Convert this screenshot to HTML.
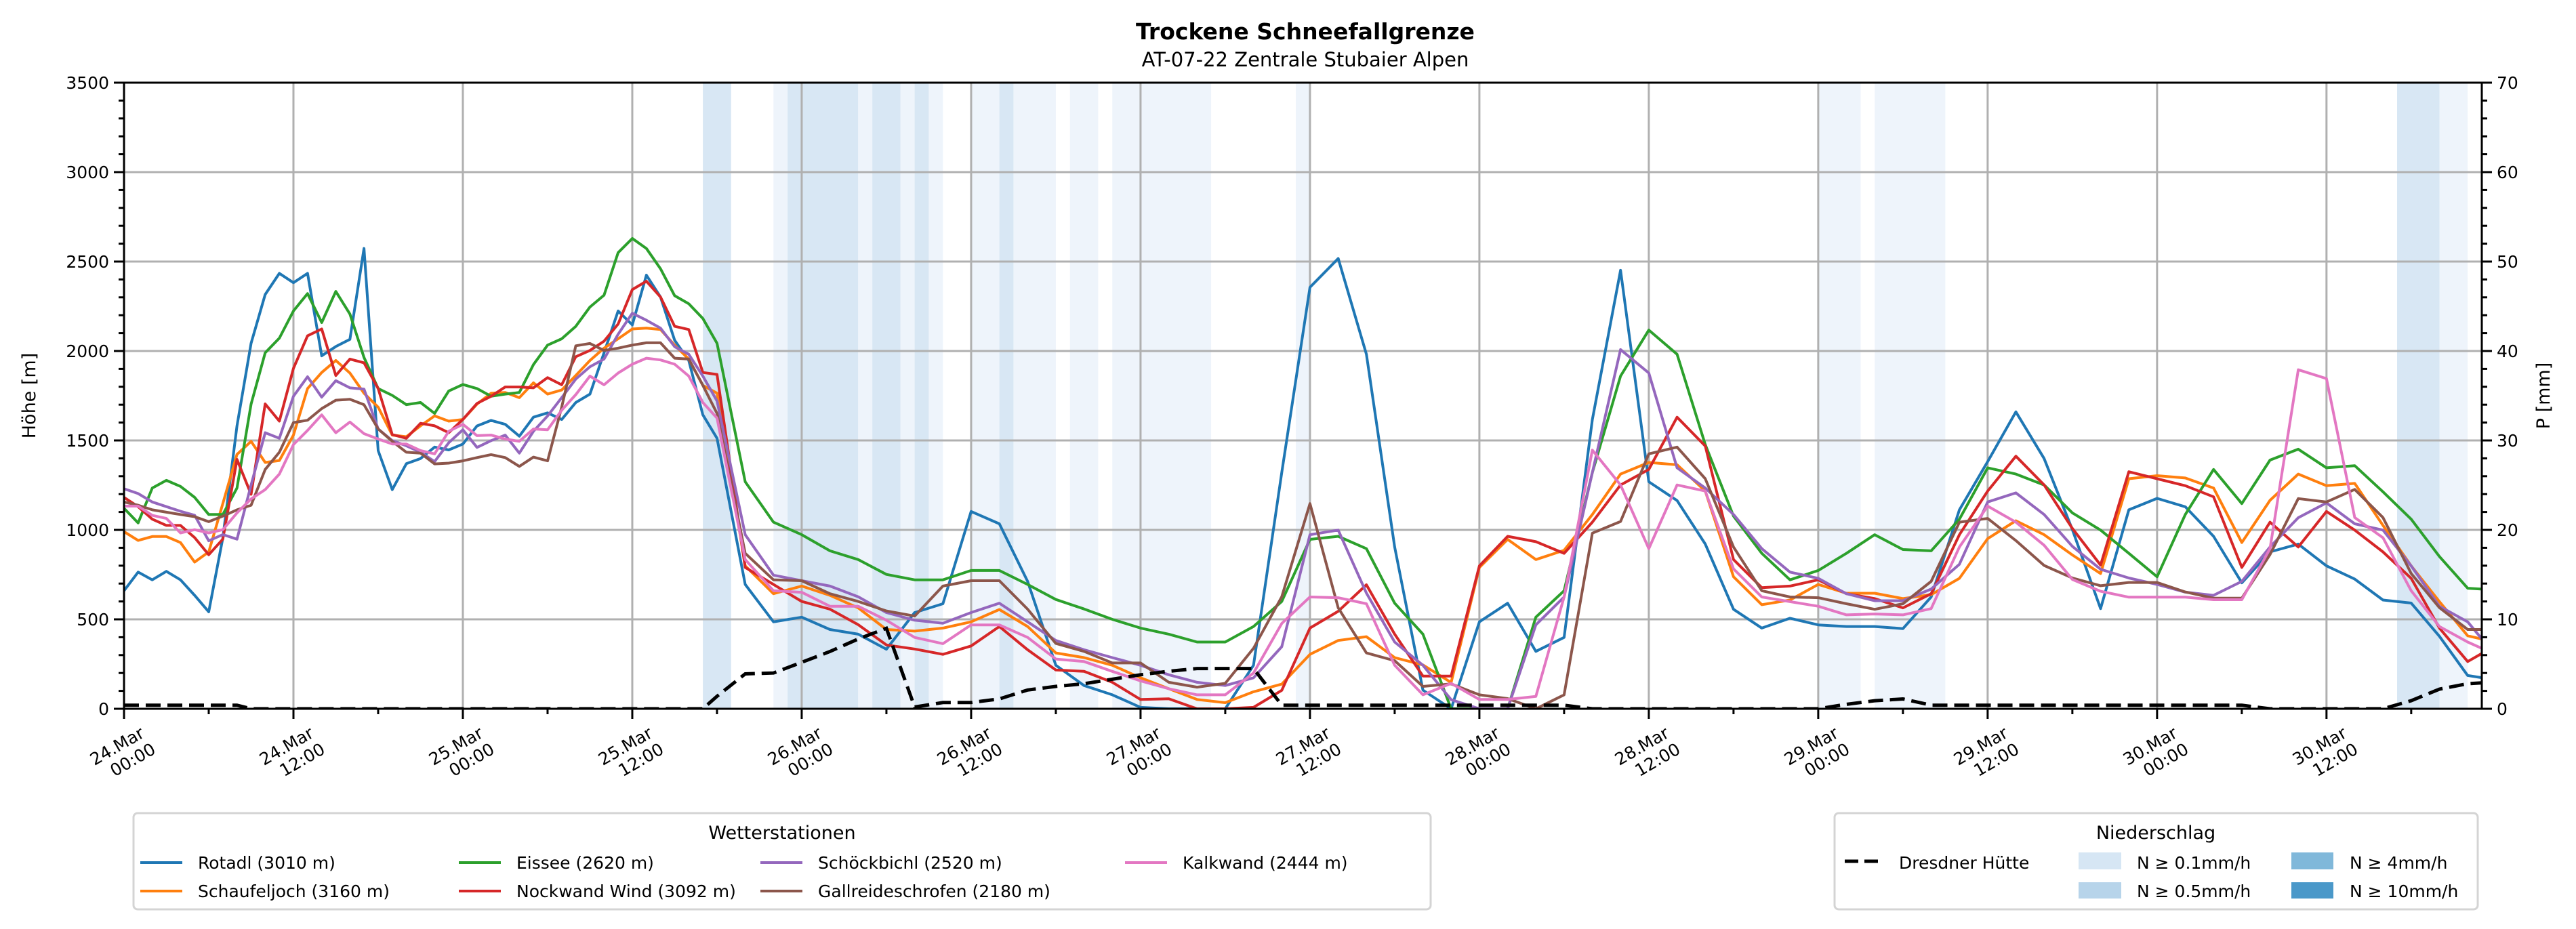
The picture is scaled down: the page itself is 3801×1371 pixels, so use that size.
<!DOCTYPE html>
<html><head><meta charset="utf-8">
<style>
html,body{margin:0;padding:0;background:#fff;}
svg{display:block;font-family:"DejaVu Sans","Liberation Sans",sans-serif;}
</style></head>
<body>
<svg id="chart" width="3801" height="1371" viewBox="0 0 3801 1371" xmlns="http://www.w3.org/2000/svg">
<text x="1926" y="58" text-anchor="middle" font-size="33" font-weight="bold">Trockene Schneefallgrenze</text>
<text x="1926" y="98" text-anchor="middle" font-size="29">AT-07-22 Zentrale Stubaier Alpen</text>
<g id="bands"></g>
<g id="grid"></g>
<g id="series"></g>
<g id="axes"></g>
<text transform="translate(52,584) rotate(-90)" text-anchor="middle" font-size="27">Höhe [m]</text>
<text transform="translate(3762,584) rotate(-90)" text-anchor="middle" font-size="27">P [mm]</text>
<g>
<rect x="197" y="1200" width="1914" height="142" rx="6" fill="#fff" stroke="#d4d4d4" stroke-width="3"/>
<text x="1154" y="1238" text-anchor="middle" font-size="27">Wetterstationen</text>
<g><line x1="207" y1="1273" x2="269" y2="1273" stroke="#1f77b4" stroke-width="4"/><text x="292" y="1282" font-size="25">Rotadl (3010 m)</text></g>
<g><line x1="207" y1="1315" x2="269" y2="1315" stroke="#ff7f0e" stroke-width="4"/><text x="292" y="1324" font-size="25">Schaufeljoch (3160 m)</text></g>
<g><line x1="677" y1="1273" x2="739" y2="1273" stroke="#2ca02c" stroke-width="4"/><text x="762" y="1282" font-size="25">Eissee (2620 m)</text></g>
<g><line x1="677" y1="1315" x2="739" y2="1315" stroke="#d62728" stroke-width="4"/><text x="762" y="1324" font-size="25">Nockwand Wind (3092 m)</text></g>
<g><line x1="1122" y1="1273" x2="1184" y2="1273" stroke="#9467bd" stroke-width="4"/><text x="1207" y="1282" font-size="25">Schöckbichl (2520 m)</text></g>
<g><line x1="1122" y1="1315" x2="1184" y2="1315" stroke="#8c564b" stroke-width="4"/><text x="1207" y="1324" font-size="25">Gallreideschrofen (2180 m)</text></g>
<g><line x1="1660" y1="1273" x2="1722" y2="1273" stroke="#e377c2" stroke-width="4"/><text x="1745" y="1282" font-size="25">Kalkwand (2444 m)</text></g>
</g>
<g>
<rect x="2707" y="1200" width="949" height="142" rx="6" fill="#fff" stroke="#d4d4d4" stroke-width="3"/>
<text x="3181" y="1238" text-anchor="middle" font-size="27">Niederschlag</text>
<g><line x1="2722" y1="1271" x2="2775" y2="1271" stroke="#000" stroke-width="5" stroke-dasharray="20,9"/><text x="2802" y="1282" font-size="25">Dresdner Hütte</text></g>
<g><rect x="3067" y="1258" width="63" height="25" fill="#d6e6f4"/><text x="3153" y="1282" font-size="25">N ≥ 0.1mm/h</text></g>
<g><rect x="3067" y="1302" width="63" height="24" fill="#b7d4ea"/><text x="3153" y="1324" font-size="25">N ≥ 0.5mm/h</text></g>
<g><rect x="3381" y="1258" width="62" height="25" fill="#80b8da"/><text x="3467" y="1282" font-size="25">N ≥ 4mm/h</text></g>
<g><rect x="3381" y="1302" width="62" height="24" fill="#4a98c9"/><text x="3467" y="1324" font-size="25">N ≥ 10mm/h</text></g>
</g>
</svg>
<script>
const hours = [0,1,2,3,4,5,6,7,8,9,10,11,12,13,14,15,16,17,18,19,20,21,22,23,24,25,26,27,28,29,30,31,32,33,34,35,36,37,38,39,40,41,42,
44,46,48,50,52,54,56,58,60,62,64,66,68,70,72,74,76,78,80,82,
84,86,88,90,92,94,96,98,100,102,104,106,108,110,112,114,116,118,120,122,124,126,128,130,132,134,136,138,140,142,144,146,148,150,152,154,156,158,160,162,164,166,167];
const rotadl = [660,764,721,768,721,634,542,955,1582,2043,2316,2434,2382,2434,1973,2025,2065,2573,1443,1225,1370,1399,1463,1447,1480,1581,1612,1590,1524,1630,1654,1617,1712,1759,1990,2224,2146,2424,2302,2060,1947,1643,1512,
695,486,512,443,417,333,538,587,1103,1034,712,243,130,78,8,0,0,0,243,1321,
2356,2517,1982,904,104,0,486,590,321,399,1617,2451,1269,1164,921,556,451,506,469,460,460,448,625,1112,1382,1660,1399,1001,560,1112,1176,1129,964,704,877,921,799,725,608,591,405,186,174];
const schaufeljoch = [990,941,963,963,929,820,877,1147,1422,1495,1377,1388,1530,1790,1880,1947,1877,1764,1686,1530,1521,1582,1637,1608,1617,1703,1764,1768,1739,1822,1759,1782,1863,1947,2016,2068,2123,2128,2120,2033,1955,1808,1764,
799,643,686,634,564,443,434,451,486,555,460,312,286,243,173,112,52,34,95,138,
304,382,403,286,245,147,790,947,834,886,1086,1312,1377,1364,1217,738,582,608,695,646,646,616,638,729,951,1051,973,860,756,1286,1303,1290,1234,929,1165,1312,1247,1260,1025,799,599,408,390];
const eissee = [1121,1039,1234,1277,1243,1182,1086,1086,1234,1703,1990,2072,2224,2321,2159,2333,2207,1964,1790,1752,1700,1712,1651,1776,1813,1790,1747,1759,1768,1924,2033,2068,2138,2246,2312,2550,2629,2573,2460,2309,2264,2182,2043,
1269,1043,973,883,834,751,721,721,773,773,695,611,558,500,451,417,373,373,460,600,
947,964,895,590,417,0,0,0,512,660,1321,1860,2117,1982,1477,1077,869,721,773,869,973,890,883,1060,1347,1312,1251,1095,999,869,738,1086,1338,1147,1390,1451,1347,1359,1213,1060,851,674,669];
const nockwand = [1182,1130,1060,1025,1025,957,861,948,1394,1199,1704,1608,1903,2085,2123,1863,1955,1934,1790,1533,1512,1596,1582,1543,1617,1707,1747,1799,1799,1794,1851,1811,1968,2003,2055,2151,2343,2390,2302,2138,2120,1880,1869,
790,695,600,557,470,357,334,304,351,460,330,217,209,148,52,56,0,0,8,103,
451,545,693,417,183,183,799,964,934,869,1043,1251,1338,1630,1469,834,677,686,721,643,616,564,643,973,1217,1412,1251,1008,803,1325,1286,1247,1185,790,1043,904,1103,999,877,729,451,264,309];
const schoeckbichl = [1230,1203,1156,1130,1104,1082,939,974,948,1251,1543,1512,1747,1856,1742,1834,1794,1787,1564,1499,1470,1434,1382,1487,1560,1461,1499,1530,1429,1551,1637,1739,1843,1912,1955,2094,2211,2172,2128,2024,1982,1860,1721,
973,747,716,686,626,538,495,478,538,590,486,382,330,286,243,190,148,130,173,347,
973,999,647,373,243,51,0,0,469,625,1321,2008,1877,1347,1234,1086,895,764,729,643,604,604,669,808,1156,1207,1086,908,780,731,695,652,634,712,904,1068,1151,1034,999,799,573,486,391];
const gallreide = [1156,1138,1112,1099,1086,1074,1046,1077,1112,1138,1338,1434,1600,1613,1678,1725,1730,1700,1564,1495,1434,1429,1369,1373,1386,1404,1421,1404,1355,1407,1386,1686,2029,2042,2003,2016,2033,2046,2046,1960,1955,1808,1651,
869,721,716,643,600,547,518,686,716,716,557,365,321,256,256,148,121,142,338,626,
1147,564,312,269,125,139,78,57,0,78,982,1047,1425,1463,1286,904,660,625,621,587,556,587,712,1043,1064,940,801,731,688,706,706,653,618,618,862,1175,1156,1226,1069,756,565,443,443];
const kalkwand = [1133,1133,1081,1064,983,1001,983,1001,1095,1173,1225,1312,1477,1556,1643,1543,1603,1538,1508,1480,1480,1443,1425,1551,1590,1527,1530,1508,1495,1564,1560,1669,1756,1860,1811,1877,1926,1960,1950,1926,1860,1712,1625,
834,660,651,573,573,495,399,364,469,469,399,278,264,209,156,112,78,78,200,477,
625,621,587,243,78,142,52,52,69,625,1446,1251,895,1251,1217,782,625,599,573,525,530,525,560,904,1133,1043,914,723,657,624,624,624,610,610,895,1895,1846,1069,956,660,460,373,338];
const dresdnerMm = [0.4,0.4,0.4,0.4,0.4,0.4,0.4,0.4,0.4,0,0,0,0,0,0,0,0,0,0,0,0,0,0,0,0,0,0,0,0,0,0,0,0,0,0,0,0,0,0,0,0,0,1.4,
3.9,4.0,5.2,6.4,7.8,9.0,0.2,0.7,0.7,1.1,2.1,2.5,2.8,3.3,3.8,4.2,4.5,4.5,4.5,0.4,
0.4,0.4,0.4,0.4,0.4,0.4,0.4,0.4,0.4,0.4,0,0,0,0,0,0,0,0,0,0.5,0.9,1.1,0.4,0.4,0.4,0.4,0.4,0.4,0.4,0.4,0.4,0.4,0.4,0.4,0,0,0,0,0,0.9,2.2,2.8,2.9];
const bandStart = [41,46,47,52,53,55,56,57,60,62,63,67,70,83,120,124,161,164];
const bandEnd   = [43,47,52,53,55,56,57,58,62,63,66,69,77,84,123,129,164,166];
const bandLevel = [1,0,1,0,1,0,1,0,0,1,0,0,0,0,0,0,1,0];
const yTicks = [0,500,1000,1500,2000,2500,3000,3500];
const y2Ticks = [0,10,20,30,40,50,60,70];
const xTickDays = ["24.Mar","24.Mar","25.Mar","25.Mar","26.Mar","26.Mar","27.Mar","27.Mar","28.Mar","28.Mar","29.Mar","29.Mar","30.Mar","30.Mar"];
const xTickTimes = ["00:00","12:00","00:00","12:00","00:00","12:00","00:00","12:00","00:00","12:00","00:00","12:00","00:00","12:00"];

const L=183,R=3662,T=122,B=1046,HMAX=167,YMAX=3500,Y2MAX=70;
const sx=h=>L+(R-L)*h/HMAX;
const sy=v=>B-(B-T)*v/YMAX;
const sy2=v=>B-(B-T)*v/Y2MAX;
const NS="http://www.w3.org/2000/svg";
function mk(tag,attrs,parent){const e=document.createElementNS(NS,tag);for(const k in attrs)e.setAttribute(k,attrs[k]);parent.appendChild(e);return e;}
const svg=document.getElementById('chart');
const defs=mk('defs',{},svg);
const cp=mk('clipPath',{id:'plotclip'},defs);
mk('rect',{x:L,y:T,width:R-L,height:B-T},cp);

const bandsG=document.getElementById('bands');
const bandColors=['#eef4fb','#d8e7f4'];
for(let i=0;i<bandStart.length;i++){
  const r=mk('rect',{x:sx(bandStart[i]),y:T,width:sx(bandEnd[i])-sx(bandStart[i]),height:B-T,fill:bandColors[bandLevel[i]]},bandsG);
  
  
}
const gridG=document.getElementById('grid');
yTicks.forEach(v=>{const g=mk('line',{x1:L,x2:R,y1:sy(v),y2:sy(v),stroke:'#b0b0b0','stroke-width':3},gridG);
  });
xTickDays.forEach((d,i)=>{const x=sx(i*12);const g=mk('line',{x1:x,x2:x,y1:T,y2:B,stroke:'#b0b0b0','stroke-width':3},gridG);
  });

const seriesG=document.getElementById('series');
seriesG.setAttribute('clip-path','url(#plotclip)');
const series=[[rotadl,'#1f77b4','rotadl'],[schaufeljoch,'#ff7f0e','schaufeljoch'],[eissee,'#2ca02c','eissee'],[nockwand,'#d62728','nockwand-wind'],[schoeckbichl,'#9467bd','schoeckbichl'],[gallreide,'#8c564b','gallreideschrofen'],[kalkwand,'#e377c2','kalkwand']];
series.forEach(([vals,col,name])=>{
  const pts=vals.map((v,i)=>sx(hours[i]).toFixed(1)+','+sy(v).toFixed(1)).join(' ');
  const p=mk('polyline',{points:pts,fill:'none',stroke:col,'stroke-width':4,'stroke-linejoin':'round'},seriesG);
  
  
});
const dpts=dresdnerMm.map((v,i)=>sx(hours[i]).toFixed(1)+','+sy2(v).toFixed(1)).join(' ');
const dl=mk('polyline',{points:dpts,fill:'none',stroke:'#000','stroke-width':5,'stroke-dasharray':'22,10'},seriesG);



const ax=document.getElementById('axes');
mk('rect',{x:L,y:T,width:R-L,height:B-T,fill:'none',stroke:'#000','stroke-width':3},ax);
for(let v=0;v<=YMAX;v+=100){const major=v%500===0;mk('line',{x1:L,x2:L-(major?15:8),y1:sy(v),y2:sy(v),stroke:'#000','stroke-width':3},ax);}
for(let v=0;v<=Y2MAX;v+=2){const major=v%10===0;mk('line',{x1:R,x2:R+(major?15:8),y1:sy2(v),y2:sy2(v),stroke:'#000','stroke-width':3},ax);}
yTicks.forEach(v=>{const t=mk('text',{x:L-22,y:sy(v)+9,'text-anchor':'end','font-size':25},ax);t.textContent=v;
  });
y2Ticks.forEach(v=>{const t=mk('text',{x:R+22,y:sy2(v)+9,'text-anchor':'start','font-size':25},ax);t.textContent=v;
  });
for(let h=0;h<=HMAX;h+=6){const major=h%12===0;mk('line',{x1:sx(h),x2:sx(h),y1:B,y2:B+(major?15:8),stroke:'#000','stroke-width':3},ax);}
xTickDays.forEach((d,i)=>{
  const x=sx(i*12);
  const t=mk('text',{transform:`translate(${x-4},1112) rotate(-30)`,'text-anchor':'middle','font-size':25},ax);
  
  
  const a=mk('tspan',{x:0,dy:-4},t);a.textContent=d;
  const b=mk('tspan',{x:10,dy:29},t);b.textContent=xTickTimes[i];
});
</script>
</body></html>
